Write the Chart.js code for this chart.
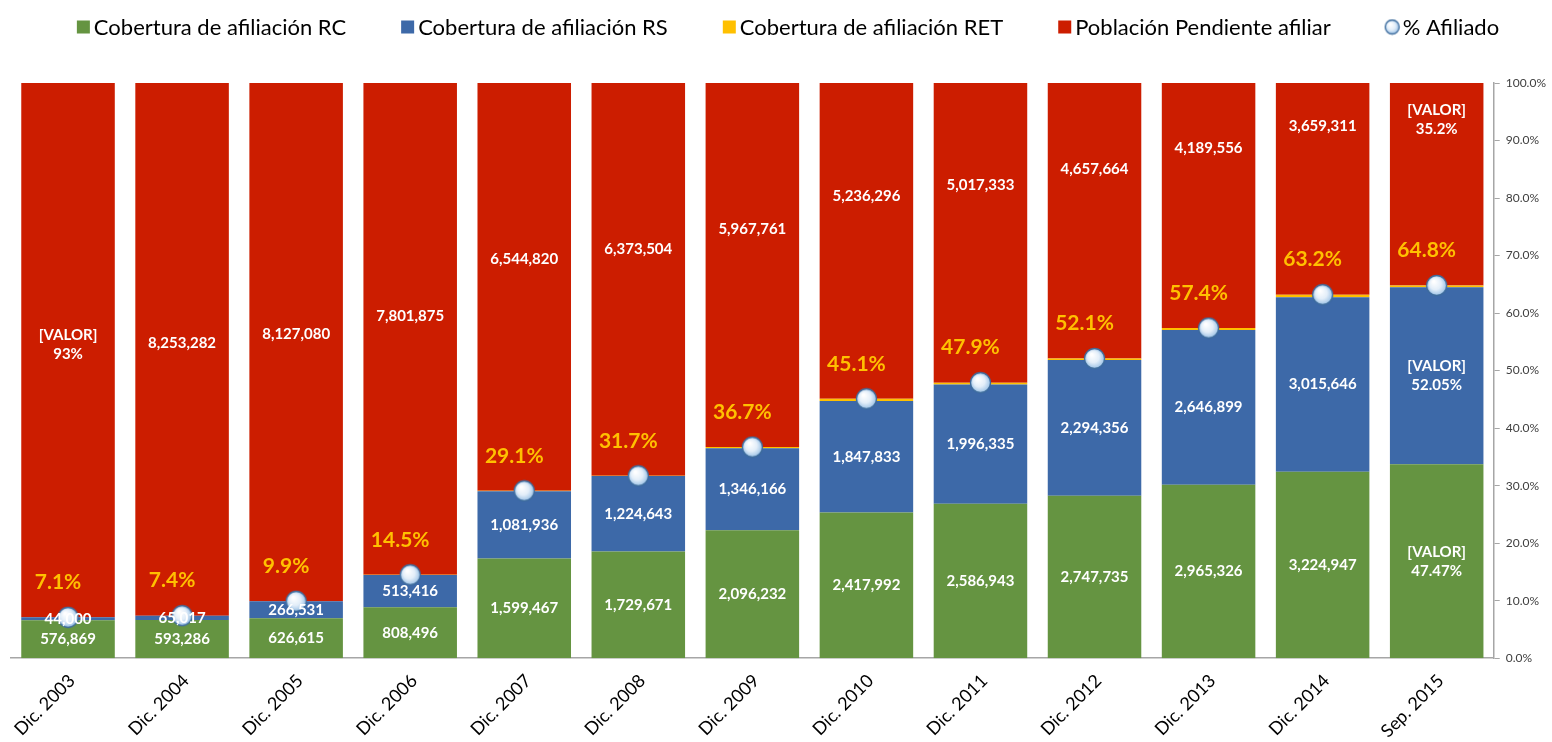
<!DOCTYPE html>
<html>
<head>
<meta charset="utf-8">
<script src="https://cdn.jsdelivr.net/npm/chart.js@4"></script>
<style>
  html, body { margin: 0; padding: 0; background: #ffffff; }
  #wrap { width: 1552px; height: 742px; position: relative; }
</style>
</head>
<body>
<div id="wrap"><canvas id="c"></canvas></div>
<script>
const categories = ['Dic. 2003', 'Dic. 2004', 'Dic. 2005', 'Dic. 2006', 'Dic. 2007', 'Dic. 2008', 'Dic. 2009', 'Dic. 2010', 'Dic. 2011', 'Dic. 2012', 'Dic. 2013', 'Dic. 2014', 'Sep. 2015'];
const coberturaRC = [576869, 593286, 626615, 808496, 1599467, 1729671, 2096232, 2417992, 2586943, 2747735, 2965326, 3224947, 3373000];
const coberturaRS = [44000, 65017, 266531, 513416, 1081936, 1224643, 1346166, 1847833, 1996335, 2294356, 2646899, 3015646, 3076000];
const coberturaRET = [0, 0, 0, 1200, 4800, 3800, 17600, 35800, 29600, 24000, 32900, 43900, 31000];
const pendiente = [8123700, 8253282, 8127080, 7801875, 6544820, 6373504, 5967761, 5236296, 5017333, 4657664, 4189556, 3659311, 3520000];
const afiliadoPct = [7.1, 7.4, 9.9, 14.5, 29.1, 31.7, 36.7, 45.1, 47.9, 52.1, 57.4, 63.2, 64.8];
// "[VALOR]" share labels shown instead of the number on some bars
const rcShareLabel = [null, null, null, null, null, null, null, null, null, null, null, null, '47.47%'];
const rsShareLabel = [null, null, null, null, null, null, null, null, null, null, null, null, '52.05%'];
const pendShareLabel = ['93%', null, null, null, null, null, null, null, null, null, null, null, '35.2%'];
const legendNames = ['Cobertura de afiliación RC', 'Cobertura de afiliación RS', 'Cobertura de afiliación RET', 'Población Pendiente afiliar', '% Afiliado'];
const yTickMin = 0, yTickMax = 100, yTickStep = 10;

const totals = categories.map((_, i) => coberturaRC[i] + coberturaRS[i] + coberturaRET[i] + pendiente[i]);
const pct = arr => arr.map((v, i) => v / totals[i] * 100);

function makeBall(r) {
  const s = Math.ceil(r * 2 + 3);
  const cv = document.createElement('canvas');
  cv.width = s; cv.height = s;
  const g = cv.getContext('2d');
  const cx = s / 2, cy = s / 2;
  const grad = g.createRadialGradient(cx - r * 0.3, cy - r * 0.4, r * 0.1, cx, cy, r);
  grad.addColorStop(0, '#ffffff');
  grad.addColorStop(0.55, '#e3eef9');
  grad.addColorStop(1, '#9cc2e6');
  g.beginPath();
  g.arc(cx, cy, r, 0, Math.PI * 2);
  g.fillStyle = grad;
  g.fill();
  g.lineWidth = 1.3;
  g.strokeStyle = '#3e6c9c';
  g.stroke();
  return cv;
}
const ball = makeBall(10);
const ballSmall = makeBall(7);

const fmt = v => v.toLocaleString('en-US');

const legendPlugin = {
  id: 'topLegend',
  afterDraw(chart) {
    const ctx = chart.ctx;
    ctx.save();
    ctx.font = '22px Lato';
    ctx.textBaseline = 'middle';
    ctx.textAlign = 'left';
    const box = 13, gap = 4, spacing = 55;
    const dsList = chart.data.datasets;
    const widths = dsList.map(d => box + gap + ctx.measureText(d.label).width);
    const total = widths.reduce((a, b) => a + b, 0) + spacing * (widths.length - 1);
    let x = chart.width / 2 + 12 - total / 2;
    const y = 27;
    dsList.forEach((d, k) => {
      if (d.type === 'line') {
        ctx.drawImage(ballSmall, x + box / 2 - ballSmall.width / 2, y - ballSmall.height / 2);
      } else {
        ctx.fillStyle = d.backgroundColor;
        ctx.fillRect(x, y - box / 2, box, box);
      }
      ctx.fillStyle = '#000000';
      ctx.fillText(d.label, x + box + gap, y + 1);
      x += widths[k] + spacing;
    });
    ctx.restore();
  }
};

const labelPlugin = {
  id: 'valueLabels',
  afterDatasetsDraw(chart) {
    const ctx = chart.ctx;
    const yS = chart.scales.y;
    ctx.save();
    ctx.textAlign = 'center';
    ctx.textBaseline = 'middle';
    ctx.fillStyle = '#ffffff';
    ctx.font = 'bold 15px Lato';
    const drawLines = (lines, x, y) => {
      const lh = 19;
      const y0 = y - (lines.length - 1) * lh / 2;
      lines.forEach((t, k) => ctx.fillText(t, x, y0 + k * lh));
    };
    const segs = [
      { ds: 0, vals: coberturaRC, share: rcShareLabel },
      { ds: 1, vals: coberturaRS, share: rsShareLabel },
      { ds: 3, vals: pendiente, share: pendShareLabel }
    ];
    segs.forEach(s => {
      const meta = chart.getDatasetMeta(s.ds);
      meta.data.forEach((el, i) => {
        const lines = s.share[i] ? ['[VALOR]', s.share[i]] : [fmt(s.vals[i])];
        let y;
        if (s.ds === 3) {
          // pending-population label sits in the upper part of its segment
          const p = 49.7 + 0.678 * afiliadoPct[i];
          y = yS.getPixelForValue(p);
        } else {
          y = (el.y + el.base) / 2;
        }
        drawLines(lines, el.x, y);
      });
    });
    // % afiliado labels
    const lm = chart.getDatasetMeta(4);
    ctx.fillStyle = '#FFC000';
    ctx.font = 'bold 21px Lato';
    lm.data.forEach((pt, i) => {
      ctx.fillText(afiliadoPct[i].toFixed(1) + '%', pt.x - 10, pt.y - 35);
    });
    ctx.restore();
  }
};

new Chart(document.getElementById('c'), {
  type: 'bar',
  data: {
    labels: categories,
    datasets: [
      { label: legendNames[0], data: pct(coberturaRC), backgroundColor: '#659441', stack: 's', order: 1 },
      { label: legendNames[1], data: pct(coberturaRS), backgroundColor: '#3D69A8', stack: 's', order: 1 },
      { label: legendNames[2], data: pct(coberturaRET), backgroundColor: '#FFC000', stack: 's', order: 1 },
      { label: legendNames[3], data: pct(pendiente), backgroundColor: '#CC1D00', stack: 's', order: 1 },
      { type: 'line', label: legendNames[4], data: afiliadoPct, yAxisID: 'y1', showLine: false,
        pointStyle: ball, pointRadius: 10, pointHoverRadius: 10, order: 0,
        backgroundColor: '#cfe2f3', borderColor: '#3e6c9c' }
    ]
  },
  options: {
    responsive: true,
    maintainAspectRatio: false,
    animation: false,
    layout: { padding: { left: 11, right: 0, top: 83, bottom: -4 } },
    datasets: { bar: { barPercentage: 0.82, categoryPercentage: 1.0 } },
    plugins: {
      tooltip: { enabled: false },
      legend: { display: false }
    },
    scales: {
      x: {
        stacked: true,
        grid: { display: false },
        border: { color: '#a6a6a6', width: 1.5 },
        ticks: { color: '#000000', font: { family: 'Lato', size: 18 }, maxRotation: 45, minRotation: 45, labelOffset: 4, padding: 4 }
      },
      y: {
        stacked: true, min: yTickMin, max: yTickMax, display: false
      },
      y1: {
        position: 'right', min: yTickMin, max: yTickMax,
        grid: { drawOnChartArea: false, tickLength: 6, color: '#a6a6a6' },
        border: { color: '#a6a6a6', width: 1.5 },
        ticks: { stepSize: yTickStep, color: '#404040', font: { family: 'Lato', size: 12 }, padding: 6,
                 callback: v => v.toFixed(1) + '%' }
      }
    }
  },
  plugins: [labelPlugin, legendPlugin]
});
</script>
</body>
</html>
